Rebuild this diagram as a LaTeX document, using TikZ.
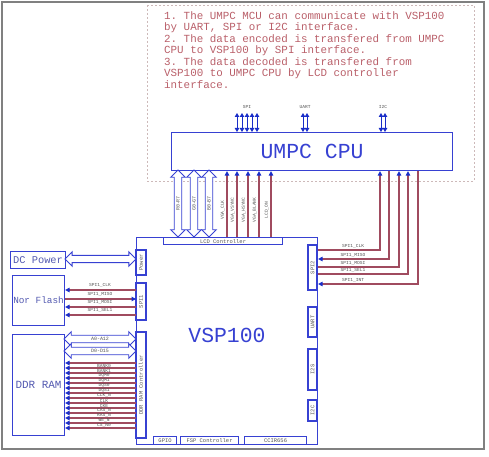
\documentclass[tikz,border=0pt]{standalone}
\usepackage{fontspec}
\setmonofont{Liberation Mono}
\usetikzlibrary{arrows.meta,shapes.arrows}
\definecolor{bblue}{RGB}{55,65,210}
\definecolor{ablue}{RGB}{25,45,200}
\definecolor{sigred}{RGB}{160,75,95}
\definecolor{notered}{RGB}{185,95,105}
\definecolor{lgray}{RGB}{85,85,85}
\definecolor{dashc}{RGB}{205,185,185}
\begin{document}
\begin{tikzpicture}[x=1bp,y=-1bp,
 box/.style={draw=bblue, line width=1.1bp, inner sep=0, fill=white},
 big/.style={font=\ttfamily\fontsize{21.5}{24}\selectfont, text=bblue},
 mid/.style={font=\ttfamily\fontsize{10.4}{12}\selectfont, text=bblue!60!gray},
 lbl/.style={font=\ttfamily\fontsize{5.5}{6}\selectfont, text=lgray, inner sep=0},
 tiny/.style={font=\ttfamily\fontsize{4.6}{5}\selectfont, text=lgray, inner sep=0},
 sig/.style={draw=sigred, line width=1.1bp},
 tipend/.style={-{Triangle[color=ablue,length=4.5bp,width=4.5bp]}},
 tipstart/.style={{Triangle[color=ablue,length=4.5bp,width=4.5bp]}-},
 bus/.style={draw=ablue, line width=1bp, {Triangle[length=4bp,width=4.5bp]}-{Triangle[length=4bp,width=4.5bp]}},
 hollow/.style={double arrow, draw=bblue, line width=0.9bp, fill=white, inner xsep=1bp, inner ysep=1.6bp,
   minimum width=13bp, double arrow head extend=3.5bp,
   font=\ttfamily\fontsize{5}{5}\selectfont, text=lgray},
]
\useasboundingbox (0,0) rectangle (489,457);
% frame
\draw[draw=gray, line width=1.3bp] (2,2) rectangle (484,449);
% note box
\draw[draw=dashc, line width=0.9bp, dash pattern=on 2bp off 2bp] (147,5) rectangle (474,181);
\node[anchor=north west, inner sep=0, align=left, text=notered,
      font=\ttfamily\fontsize{10.9}{11.6}\selectfont] (note) at (164,11)
 {1. The UMPC MCU can communicate with VSP100\\
  by UART, SPI or I2C interface.\\
  2. The data encoded is transfered from UMPC\\
  CPU to VSP100 by SPI interface.\\
  3. The data decoded is transfered from\\
  VSP100 to UMPC CPU by LCD controller\\
  interface.};

% CPU
\node[box, big, anchor=north west, minimum width=281bp, minimum height=38bp] (cpu) at (171,132) {UMPC CPU};

% top buses
\foreach \x [count=\i] in {237,242,247,252,257,303,307,381,385}{
  \coordinate (bt\i) at (\x,113);
  \draw[bus] (bt\i) -- (bt\i |- cpu.north);
}
\node[tiny] (lspi) at (247,107) {SPI};
\node[tiny] (luart) at (305,107) {UART};
\node[tiny] (li2c) at (383,107) {I2C};

% VSP100
\node[box, anchor=north west, minimum width=181bp, minimum height=207bp] (vsp) at (136,237) {};
\node[big] (vsptext) at (227,335) {VSP100};

\node[box, lbl, anchor=north west, minimum width=119bp, minimum height=7bp] (lcd) at (163,237) {LCD Controller};

\node[box, lbl, rotate=90, minimum width=45bp, minimum height=9bp] (spi2) at (312.5,267.5) {SPI2};
\node[box, lbl, rotate=90, minimum width=30bp, minimum height=9bp] (uart) at (312.5,322) {UART};
\node[box, lbl, rotate=90, minimum width=41bp, minimum height=9bp] (i2s) at (312.5,369.5) {I2S};
\node[box, lbl, rotate=90, minimum width=21bp, minimum height=9bp] (i2c) at (312.5,410.5) {I2C};

\node[box, lbl, rotate=90, minimum width=25bp, minimum height=10bp] (power) at (141,262.5) {Power};
\node[box, lbl, rotate=90, minimum width=37bp, minimum height=10bp] (spi1) at (141,301.5) {SPI1};
\node[box, lbl, rotate=90, minimum width=106bp, minimum height=10bp] (ddrc) at (141,385) {DDR RAM Controller};

\node[box, lbl, anchor=north west, minimum width=23bp, minimum height=8bp] (gpio) at (153,436) {GPIO};
\node[box, lbl, anchor=north west, minimum width=58bp, minimum height=8bp] (fsp) at (180,436) {FSP Controller};
\node[box, lbl, anchor=north west, minimum width=62bp, minimum height=8bp] (ccir) at (244,436) {CCIR656};

% left devices
\node[box, mid, anchor=north west, minimum width=55bp, minimum height=17bp] (dc) at (10,251) {DC Power};
\node[box, mid, anchor=north west, minimum width=52bp, minimum height=50bp, font=\ttfamily\fontsize{9.4}{11}\selectfont] (nor) at (12,275) {Nor Flash};
\node[box, mid, anchor=north west, minimum width=52bp, minimum height=101bp, font=\ttfamily\fontsize{11}{12}\selectfont] (ddr) at (12,334) {DDR RAM};

% hollow arrows
\node[hollow, minimum height=71bp] (pwrarrow) at (100.5,259) {\phantom{A}};
\node[hollow, minimum height=72bp] (aarrow) at (100,339) {A0-A12};
\node[hollow, minimum height=72bp] (darrow) at (100,351) {D0-D15};
\node[hollow, rotate=90, minimum height=67bp] (rarrow) at (178,203.5) {R0-R7};
\node[hollow, rotate=90, minimum height=67bp] (garrow) at (194,203.5) {G0-G7};
\node[hollow, rotate=90, minimum height=67bp] (barrow) at (209,203.5) {B0-B7};

% VGA / LCD lines
\foreach \x/\t in {227/VGA\_CLK,237/VGA\_VSYNC,248/VGA\_HSYNC,259/VGA\_BLANK,271/LCD\_ON}{
  \draw[sig, tipend] (lcd.north -| \x,0) -- (cpu.south -| \x,0);
  \node[tiny, rotate=90] at (\x-4.5,210) {\t};
}

% SPI1 to Nor Flash
\draw[sig, tipend]   (vsp.west |- 0,290) -- (nor.east |- 0,290);
\draw[sig, tipstart] (vsp.west |- 0,299) -- (nor.east |- 0,299);
\draw[sig, tipend]   (vsp.west |- 0,307) -- (nor.east |- 0,307);
\draw[sig, tipend]   (vsp.west |- 0,315) -- (nor.east |- 0,315);
\node[tiny] at (100,285.5) {SPI1\_CLK};
\node[tiny] at (100,294) {SPI1\_MISO};
\node[tiny] at (100,302.5) {SPI1\_MOSI};
\node[tiny] at (100,310.5) {SPI1\_SEL1};

% DDR lines
\foreach \i in {0,...,13}{
  \draw[sig, tipend] (vsp.west |- 0,363+\i*5) -- (ddr.east |- 0,363+\i*5);
}
\foreach \t [count=\i from 0] in {BANK0,BANK1,DQM0,DQM1,DQS0,DQS1,CLK\_N,CLK,CKE,CAS\_N,RAS\_N,WE\_N,CS\_N0}{
  \node[tiny] at (104,365.5+\i*5) {\t};
}

% SPI2 to CPU
\draw[sig, tipend]   (vsp.east |- 0,250) -| (cpu.south -| 380,0);
\draw[sig, tipstart] (vsp.east |- 0,259) -| (cpu.south -| 389,0);
\draw[sig, tipend]   (vsp.east |- 0,267) -| (cpu.south -| 399,0);
\draw[sig, tipend]   (vsp.east |- 0,274) -| (cpu.south -| 408,0);
\draw[sig, tipstart] (vsp.east |- 0,284) -| (cpu.south -| 418,0);
\node[tiny] at (353,246.5) {SPI1\_CLK};
\node[tiny] at (353,255.5) {SPI1\_MISO};
\node[tiny] at (353,263.5) {SPI1\_MOSI};
\node[tiny] at (353,270.5) {SPI1\_SEL1};
\node[tiny] at (353,280) {SPI1\_INT};
\end{tikzpicture}
\end{document}
